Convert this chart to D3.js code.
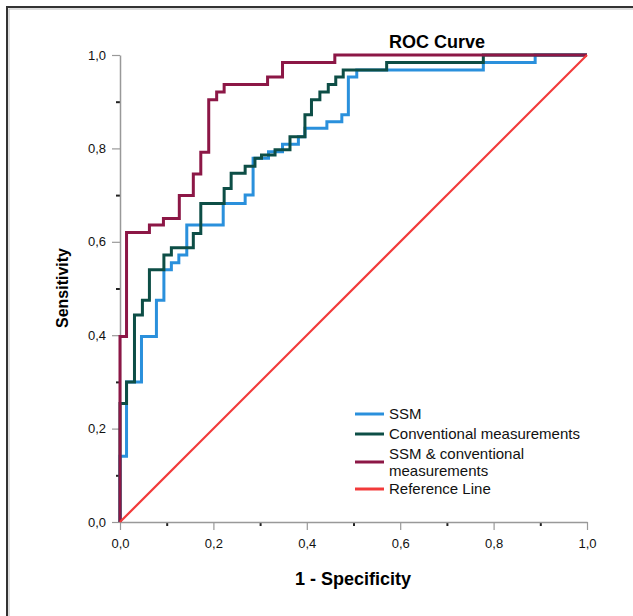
<!DOCTYPE html>
<html>
<head>
<meta charset="utf-8">
<script src="https://cdn.jsdelivr.net/npm/d3@7"></script>
<style>
  body { margin: 0; background: #fff; }
  svg { display: block; font-family: "Liberation Sans", Arial, sans-serif; }
</style>
</head>
<body>
<svg id="roc" width="633" height="616"></svg>
<script>
  // ROC curve points (1 - specificity, sensitivity), one corner per step
  const ssmFpr = [0, 0, .014, .046, .078, .094, .11, .126, .143, .221, .268, .285, .318, .348, .382, .396, .443, .475, .489, .507, .778, .889, 1];
  const ssmTpr = [0, .141, .30, .397, .475, .54, .555, .572, .636, .682, .70, .779, .793, .809, .825, .843, .857, .872, .953, .968, .984, 1, 1];

  const convFpr = [0, 0, .014, .031, .048, .063, .094, .11, .157, .173, .223, .238, .268, .289, .303, .332, .364, .396, .41, .428, .446, .462, .478, .571, .778, 1];
  const convTpr = [0, .254, .30, .443, .475, .54, .572, .587, .618, .682, .714, .747, .762, .779, .786, .797, .825, .872, .904, .921, .937, .953, .968, .984, 1, 1];

  const bothFpr = [0, 0, .014, .063, .093, .127, .157, .173, .19, .207, .223, .316, .348, .46, 1];
  const bothTpr = [0, .397, .62, .636, .65, .699, .745, .792, .904, .921, .937, .953, .984, 1, 1];

  const refFpr = [0, 1];
  const refTpr = [0, 1];

  const seriesNames = ["SSM", "Conventional measurements", "SSM & conventional measurements", "Reference Line"];
  const majorTicks = [0, 0.2, 0.4, 0.6, 0.8, 1.0];
  const minorTicks = [0.1, 0.3, 0.5, 0.7, 0.9];

  const svg = d3.select('#roc');

  // frame (only top and left edges show in the picture)
  svg.append('rect')
    .attr('x', 7).attr('y', 7)
    .attr('width', 800).attr('height', 800)
    .attr('fill', 'none')
    .attr('stroke', '#333')
    .attr('stroke-width', 2);
  svg.append('rect')
    .attr('x', 9).attr('y', 9)
    .attr('width', 800).attr('height', 800)
    .attr('fill', 'none')
    .attr('stroke', '#bbb')
    .attr('stroke-width', 1);

  // scales
  const x = d3.scaleLinear().domain([0, 1]).range([120, 587]);
  const y = d3.scaleLinear().domain([0, 1]).range([522, 55]);

  // comma as decimal mark
  const fmt = d3.formatLocale({ decimal: ",", thousands: ".", grouping: [3], currency: ["", ""] }).format(".1f");

  // minor ticks (short, dark)
  svg.append('g')
    .attr('transform', 'translate(0,522)')
    .call(d3.axisBottom(x).tickValues(minorTicks).tickSize(4).tickFormat(''))
    .call(g => g.select('.domain').remove())
    .call(g => g.selectAll('line').attr('stroke', '#222').attr('stroke-width', 2));
  svg.append('g')
    .attr('transform', 'translate(120,0)')
    .call(d3.axisLeft(y).tickValues(minorTicks).tickSize(4).tickFormat(''))
    .call(g => g.select('.domain').remove())
    .call(g => g.selectAll('line').attr('stroke', '#222').attr('stroke-width', 2));

  // major ticks with labels
  const xAxis = svg.append('g')
    .attr('transform', 'translate(0,522)')
    .call(d3.axisBottom(x).tickValues(majorTicks).tickSize(8).tickSizeOuter(0).tickPadding(9).tickFormat(fmt));
  const yAxis = svg.append('g')
    .attr('transform', 'translate(120,0)')
    .call(d3.axisLeft(y).tickValues(majorTicks).tickSize(8).tickSizeOuter(0).tickPadding(6).tickFormat(fmt));

  [xAxis, yAxis].forEach(g => {
    g.select('.domain').attr('stroke', '#999').attr('stroke-width', 1.5);
    g.selectAll('line').attr('stroke', '#999').attr('stroke-width', 1.2);
    g.selectAll('text')
      .attr('fill', '#111')
      .style('font-size', '13px')
      .style('font-family', '"Liberation Sans", Arial, sans-serif');
  });

  // curves
  const line = d3.line()
    .x(d => x(d[0]))
    .y(d => y(d[1]))
    .curve(d3.curveStepAfter);

  const series = [
    { name: seriesNames[0], fpr: ssmFpr, tpr: ssmTpr, color: "#2a90dc", width: 3 },
    { name: seriesNames[1], fpr: convFpr, tpr: convTpr, color: "#0d4e46", width: 3 },
    { name: seriesNames[2], fpr: bothFpr, tpr: bothTpr, color: "#8c1746", width: 3 },
    { name: seriesNames[3], fpr: refFpr, tpr: refTpr, color: "#f23a3a", width: 2.2 }
  ];

  series.forEach(s => {
    const pts = s.fpr.map((v, i) => [v, s.tpr[i]]);
    svg.append('path')
      .datum(pts)
      .attr('fill', 'none')
      .attr('stroke', s.color)
      .attr('stroke-width', s.width)
      .attr('stroke-linejoin', 'miter')
      .attr('d', s.name === "Reference Line" ? d3.line().x(d => x(d[0])).y(d => y(d[1]))(pts) : line(pts));
  });

  // titles
  svg.append('text')
    .attr('x', 437).attr('y', 48)
    .attr('text-anchor', 'middle')
    .style('font-size', '18px').style('font-weight', 'bold')
    .text('ROC Curve');

  svg.append('text')
    .attr('x', 353).attr('y', 585)
    .attr('text-anchor', 'middle')
    .style('font-size', '18px').style('font-weight', 'bold')
    .text('1 - Specificity');

  svg.append('text')
    .attr('transform', 'translate(68,288) rotate(-90)')
    .attr('text-anchor', 'middle')
    .style('font-size', '16px').style('font-weight', 'bold')
    .text('Sensitivity');

  // legend
  const legendRows = [
    { lines: ["SSM"], y: 414 },
    { lines: ["Conventional measurements"], y: 434 },
    { lines: ["SSM & conventional", "measurements"], y: 462 },
    { lines: ["Reference Line"], y: 489 }
  ];

  const legend = svg.append('g');
  legendRows.forEach((r, i) => {
    legend.append('line')
      .attr('x1', 355).attr('x2', 384)
      .attr('y1', r.y).attr('y2', r.y)
      .attr('stroke', series[i].color)
      .attr('stroke-width', 3);
    r.lines.forEach((l, j) => {
      legend.append('text')
        .attr('x', 389)
        .attr('y', r.y + 5 - (r.lines.length - 1) * 8.5 + j * 17)
        .style('font-size', '15px')
        .attr('fill', '#111')
        .text(l);
    });
  });
</script>
</body>
</html>
